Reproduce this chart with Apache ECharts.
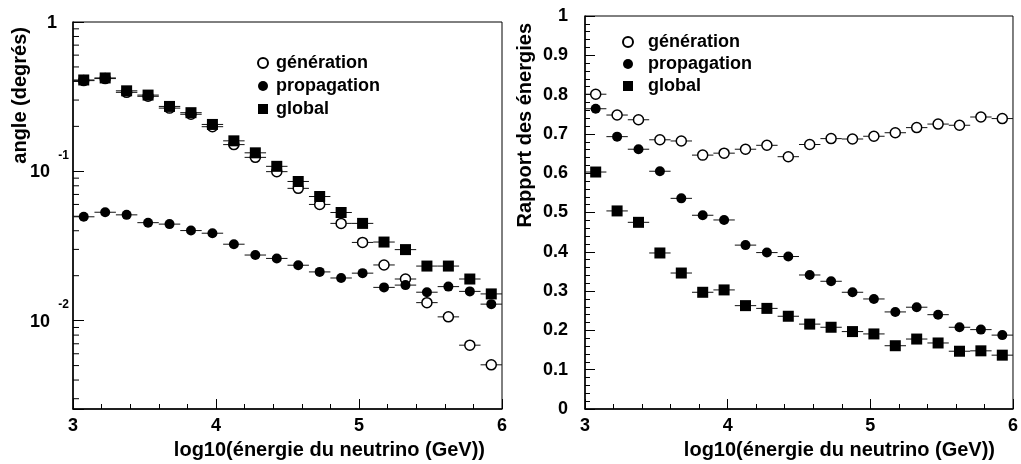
<!DOCTYPE html>
<html>
<head>
<meta charset="utf-8">
<script src="https://cdn.jsdelivr.net/npm/echarts@6/dist/echarts.min.js"></script>
<style>
  html, body { margin: 0; padding: 0; background: #fff; }
  #chart { width: 1021px; height: 464px; }
</style>
</head>
<body>
<div id="chart"></div>
<script>
// centres des bins en log10(E/GeV)
const binCenters = [3.075, 3.225, 3.375, 3.525, 3.675, 3.825, 3.975, 4.125, 4.275, 4.425,
                    4.575, 4.725, 4.875, 5.025, 5.175, 5.325, 5.475, 5.625, 5.775, 5.925];
const binHalfWidth = 0.075;

// panneau gauche : angle (degres)
const angleGeneration = [0.405, 0.418, 0.338, 0.318, 0.265, 0.241, 0.199, 0.151, 0.124, 0.0995,
                         0.0769, 0.060, 0.0448, 0.0334, 0.0236, 0.019, 0.0132, 0.0106, 0.00685, 0.00506];
const anglePropagation = [0.0496, 0.0532, 0.0511, 0.0453, 0.0443, 0.0401, 0.0385, 0.0325, 0.0275, 0.0261,
                          0.0235, 0.0212, 0.0193, 0.0208, 0.0167, 0.0173, 0.0155, 0.0169, 0.0157, 0.0129];
const angleGlobal = [0.409, 0.422, 0.346, 0.324, 0.272, 0.247, 0.206, 0.160, 0.133, 0.108,
                     0.0855, 0.0678, 0.053, 0.0448, 0.0336, 0.0299, 0.0232, 0.0232, 0.019, 0.0151];

// panneau droit : rapport des energies
const ratioGeneration = [0.801, 0.748, 0.736, 0.685, 0.682, 0.646, 0.651, 0.661, 0.671, 0.642,
                         0.673, 0.688, 0.687, 0.694, 0.703, 0.716, 0.725, 0.722, 0.743, 0.739];
const ratioPropagation = [0.764, 0.693, 0.661, 0.605, 0.536, 0.493, 0.481, 0.417, 0.398, 0.388,
                          0.341, 0.325, 0.297, 0.280, 0.247, 0.259, 0.240, 0.208, 0.202, 0.188];
const ratioGlobal = [0.603, 0.504, 0.475, 0.397, 0.346, 0.297, 0.303, 0.263, 0.256, 0.236,
                     0.216, 0.208, 0.197, 0.191, 0.161, 0.178, 0.168, 0.147, 0.148, 0.137];

const seriesNames = ['génération', 'propagation', 'global'];
const logMinorTicks = [0.003, 0.004, 0.005, 0.006, 0.007, 0.008, 0.009,
                       0.02, 0.03, 0.04, 0.05, 0.06, 0.07, 0.08, 0.09,
                       0.2, 0.3, 0.4, 0.5, 0.6, 0.7, 0.8, 0.9];

const chart = echarts.init(document.getElementById('chart'));
const FONT = 'Liberation Sans, Arial, sans-serif';

function pairs(ys) {
  return binCenters.map((x, i) => [x, ys[i]]);
}

// barre horizontale = largeur du bin
function errBar(ys, xi, yi) {
  return {
    type: 'custom', xAxisIndex: xi, yAxisIndex: yi, z: 2, silent: true,
    data: pairs(ys),
    renderItem(params, api) {
      const x = api.value(0), y = api.value(1);
      const a = api.coord([x - binHalfWidth, y]);
      const b = api.coord([x + binHalfWidth, y]);
      return { type: 'line', shape: { x1: a[0], y1: a[1], x2: b[0], y2: b[1] },
               style: { stroke: '#111', lineWidth: 1 } };
    }
  };
}

const styles = [
  { symbol: 'circle', size: 10, itemStyle: { color: '#fff', borderColor: '#000', borderWidth: 1.5, opacity: 1 } },
  { symbol: 'circle', size: 10, itemStyle: { color: '#000', opacity: 1 } },
  { symbol: 'rect', size: 11, itemStyle: { color: '#000', opacity: 1 } }
];

function points(name, ys, k, xi, yi) {
  return {
    type: 'scatter', name: name, xAxisIndex: xi, yAxisIndex: yi, z: 3 + k,
    symbol: styles[k].symbol, symbolSize: styles[k].size,
    itemStyle: styles[k].itemStyle,
    data: pairs(ys)
  };
}

const leftSets = [angleGeneration, anglePropagation, angleGlobal];
const rightSets = [ratioGeneration, ratioPropagation, ratioGlobal];
const series = [];
leftSets.forEach((ys) => series.push(errBar(ys, 0, 0)));
rightSets.forEach((ys) => series.push(errBar(ys, 1, 1)));
leftSets.forEach((ys, k) => series.push(points(seriesNames[k], ys, k, 0, 0)));
rightSets.forEach((ys, k) => series.push(points(seriesNames[k], ys, k, 1, 1)));

// petites graduations de l'axe log
series.push({
  type: 'custom', xAxisIndex: 0, yAxisIndex: 0, silent: true, z: 1,
  data: logMinorTicks.map(v => [3, v]),
  renderItem(params, api) {
    const p = api.coord([api.value(0), api.value(1)]);
    return { type: 'line', shape: { x1: p[0], y1: p[1], x2: p[0] + 6, y2: p[1] },
             style: { stroke: '#000', lineWidth: 1 } };
  }
});

const tickLabel = { color: '#000', fontFamily: FONT, fontWeight: 'bold', fontSize: 18 };

function xAxis(gi) {
  return {
    type: 'value', gridIndex: gi, min: 3, max: 6, interval: 1,
    axisLine: { lineStyle: { color: '#000', width: 1.5 } },
    axisTick: { inside: true, length: 10, lineStyle: { color: '#000' } },
    minorTick: { show: true, splitNumber: 5, length: 5, lineStyle: { color: '#000' } },
    splitLine: { show: false },
    axisLabel: Object.assign({ margin: 8 }, tickLabel)
  };
}

function legend(left, top, gap, pad) {
  return {
    orient: 'vertical', left: left, top: top, itemWidth: 10, itemHeight: 10, itemGap: gap,
    selectedMode: false,
    data: [
      { name: seriesNames[0], icon: 'circle' },
      { name: seriesNames[1], icon: 'circle' },
      { name: seriesNames[2], icon: 'rect' }
    ],
    textStyle: { color: '#000', fontFamily: FONT, fontWeight: 'bold', fontSize: 18,
                 lineHeight: 18, padding: [0, 0, 0, pad] }
  };
}

const option = {
  animation: false,
  backgroundColor: '#fff',
  grid: [
    { left: 73, top: 15, right: 519, bottom: 55, show: true, borderColor: '#000', borderWidth: 1 },
    { left: 585, top: 16, right: 8, bottom: 55, show: true, borderColor: '#000', borderWidth: 1 }
  ],
  legend: [legend(252, 49, 5, 3), legend(617, 28, 4, 10)],
  xAxis: [xAxis(0), xAxis(1)],
  yAxis: [
    {
      type: 'log', gridIndex: 0, min: 0.00256, max: 1, logBase: 10,
      axisLine: { lineStyle: { color: '#000', width: 1.5 } },
      axisTick: { inside: true, length: 11, lineStyle: { color: '#000' } },
      splitLine: { show: false },
      axisLabel: {
        margin: 4, padding: [0, 0, 14, 0],
        formatter(v) {
          const e = Math.log10(v);
          const r = Math.round(e);
          if (Math.abs(e - r) > 1e-6) return '';
          if (r === 0) return '{p| }\n{one|1}';
          return '{p|' + r + '}\n{b|10}';
        },
        rich: {
          p: { color: '#000', fontFamily: FONT, fontWeight: 'bold', fontSize: 12, lineHeight: 16, align: 'right' },
          b: { color: '#000', fontFamily: FONT, fontWeight: 'bold', fontSize: 18, lineHeight: 18, align: 'right', padding: [0, 19, 0, 0] },
          one: { color: '#000', fontFamily: FONT, fontWeight: 'bold', fontSize: 18, lineHeight: 18, align: 'right', padding: [0, 12, 0, 0] }
        }
      }
    },
    {
      type: 'value', gridIndex: 1, min: 0, max: 1, interval: 0.1,
      axisLine: { lineStyle: { color: '#000', width: 1.5 } },
      axisTick: { inside: true, length: 10, lineStyle: { color: '#000' } },
      minorTick: { show: true, splitNumber: 5, length: 5, lineStyle: { color: '#000' } },
      splitLine: { show: false },
      axisLabel: Object.assign({ margin: 17, formatter: v => (v === 0 || v === 1) ? String(v) : v.toFixed(1) }, tickLabel)
    }
  ],
  graphic: [
    { type: 'text', x: 20, y: 27, rotation: Math.PI / 2,
      style: { text: 'angle (degrés)', font: 'bold 20px ' + FONT, fill: '#000', align: 'right', verticalAlign: 'middle' } },
    { type: 'text', x: 525, y: 23, rotation: Math.PI / 2,
      style: { text: 'Rapport des énergies', font: 'bold 20px ' + FONT, fill: '#000', align: 'right', verticalAlign: 'middle' } },
    { type: 'text', x: 485, y: 450,
      style: { text: 'log10(énergie du neutrino (GeV))', font: 'bold 20px ' + FONT, fill: '#000', align: 'right', verticalAlign: 'middle' } },
    { type: 'text', x: 995, y: 450,
      style: { text: 'log10(énergie du neutrino (GeV))', font: 'bold 20px ' + FONT, fill: '#000', align: 'right', verticalAlign: 'middle' } }
  ],
  series: series
};

chart.setOption(option);
</script>
</body>
</html>
